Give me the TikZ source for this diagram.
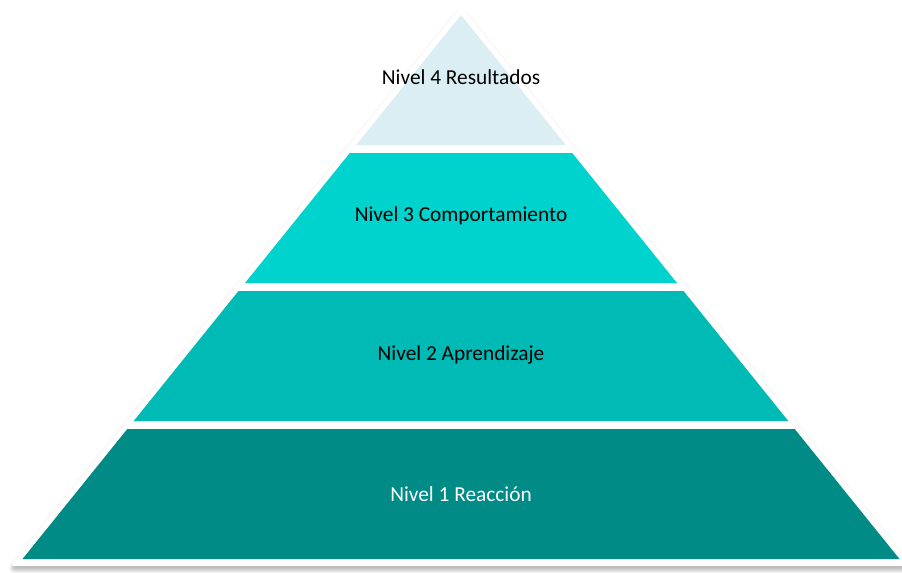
\documentclass[tikz,border=0pt]{standalone}
\usepackage{fontspec}
\setmainfont{Carlito}
\usetikzlibrary{shadows.blur}
\definecolor{tierA}{HTML}{DAEEF3}
\definecolor{tierB}{HTML}{00D2CD}
\definecolor{tierC}{HTML}{00BAB6}
\definecolor{tierD}{HTML}{008B87}
\tikzset{
  tier/.style={draw=none},
  lbl/.style={font=\fontsize{16}{19}\selectfont, inner sep=0pt, anchor=center},
}
\begin{document}
\begin{tikzpicture}[x=0.75pt,y=-0.75pt]
\useasboundingbox (0,0) rectangle (902,572);
% outer white frame with soft shadow
\fill[white, rounded corners=4, blur shadow={shadow xshift=0pt, shadow yshift=-3pt, shadow blur radius=3pt, shadow opacity=32}]
  (461,6) -- (912,566) -- (10,566) -- cycle;
% tiers
\fill[tierA] (461,15) -- (565.8,145) -- (356.2,145) -- cycle;
\fill[tierB] (349.8,153) -- (572.2,153) -- (677.0,283) -- (245.0,283) -- cycle;
\fill[tierC] (238.5,291) -- (683.5,291) -- (788.3,421) -- (133.7,421) -- cycle;
\fill[tierD] (127.3,429) -- (794.7,429) -- (899.5,559) -- (22.5,559) -- cycle;
% labels
\node[lbl, text=black] (l4) at (461,77) {Nivel 4 Resultados};
\node[lbl, text=black] (l3) at (461,216) {Nivel 3 Comportamiento};
\node[lbl, text=black] (l2) at (461,355) {Nivel 2 Aprendizaje};
\node[lbl, text=white] (l1) at (461,494) {Nivel 1 Reacción};
\end{tikzpicture}
\end{document}
